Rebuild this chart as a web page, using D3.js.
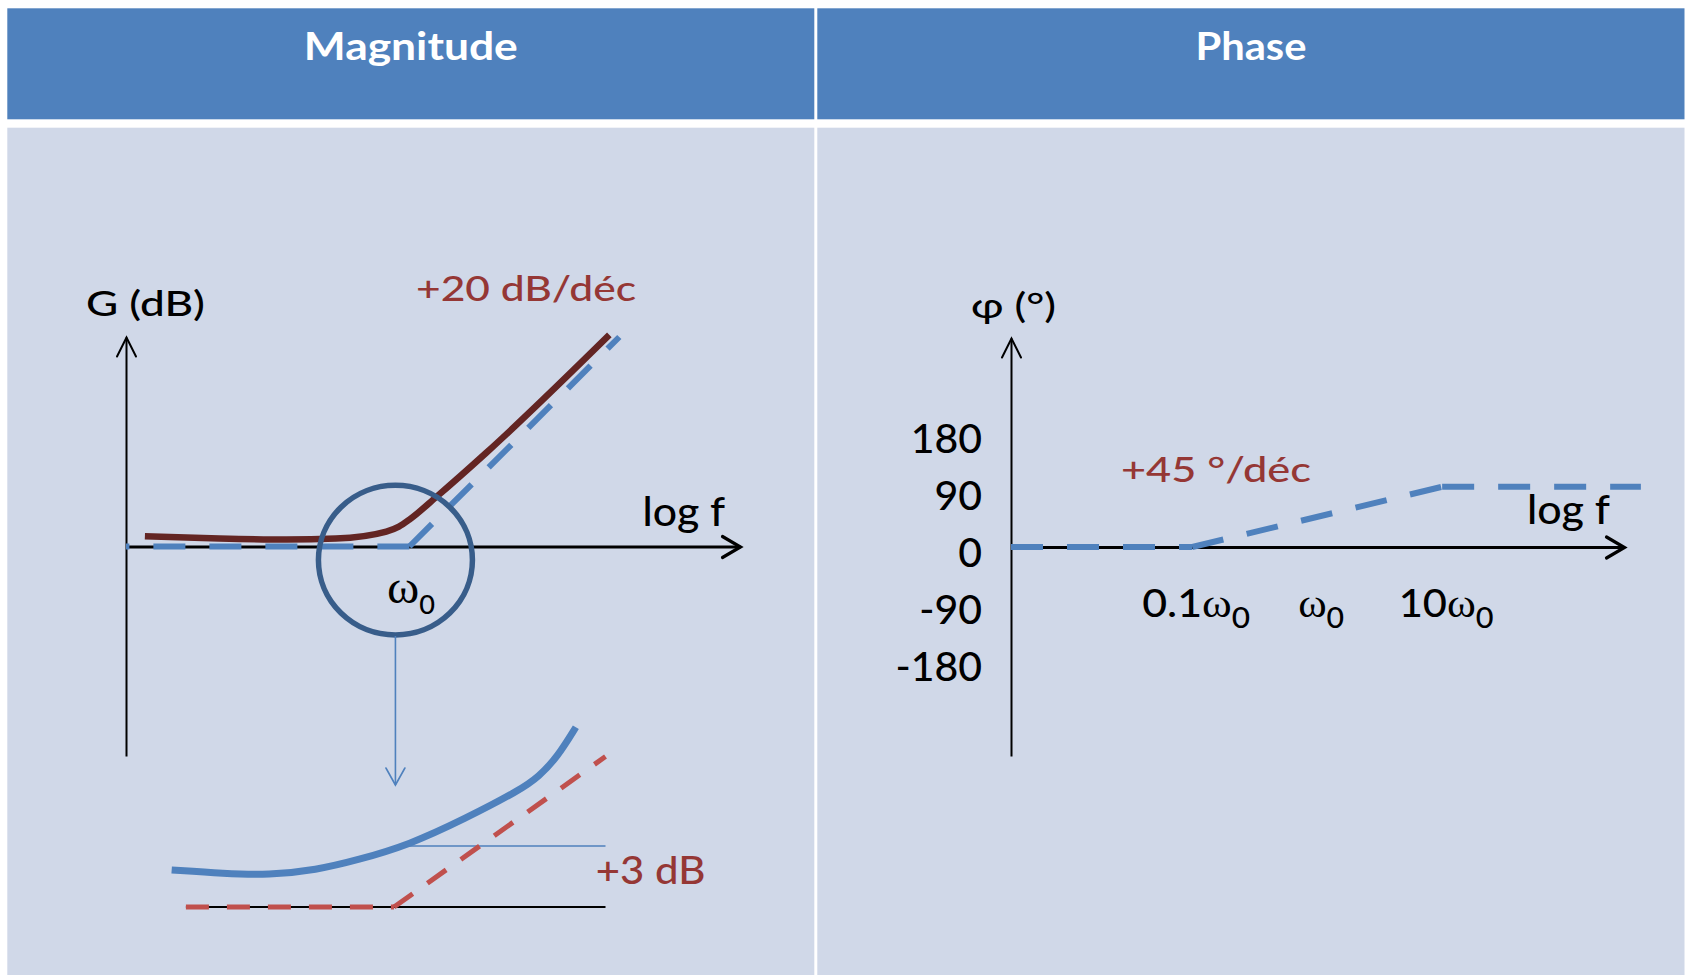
<!DOCTYPE html>
<html><head><meta charset="utf-8">
<script src="https://cdn.jsdelivr.net/npm/d3@7"></script>
<style>html,body{margin:0;padding:0;background:#fff;overflow:hidden}</style>
</head><body><svg id="chart" width="1686" height="975"></svg>
<script>
// ---------- DATA ----------
const panelTitles = ["Magnitude", "Phase"];
// Magnitude panel: x = log10(f/ω0) in decades, y = gain in dB
const magAsymptoteFlat = [[0, 0], [-2.7, 0]];
const magAsymptoteSlope = [[0, 0], [2, 40]];
const magCurve = [[-2.52, 1.96], [-1.81, 1.52], [-1.17, 1.33], [-0.70, 1.52], [-0.22, 2.86], [-0.10, 3.81], [0, 5.14], [0.26, 9.52], [0.73, 17.85], [1.905, 40.4]];
const magZoomCircle = { center: [-0.133, -2.6], rx: 0.7336, ry: 14.3 };
// Zoomed inset (around ω0): x = decades, y = dB
const insetFlat = [[-0.365, 0], [0, 0]];
const insetSlope = [[0, 0], [0.371, 7.4]];
const insetBaseline = [[-0.365, 0], [0.371, 0]];
const insetRef3dB = [[0, 3], [0.371, 3]];
const insetCurve = [[-0.390, 1.82], [-0.298, 1.64], [-0.220, 1.57], [-0.136, 1.82], [-0.064, 2.31], [0.026, 3.05], [0.124, 4.33], [0.221, 5.75], [0.254, 6.41], [0.287, 7.39], [0.319, 8.84]];
const insetArrowEnd = 6.0;
// Phase panel: x = decades, y = degrees
const phaseTickValues = [180, 90, 0, -90, -180];
const phaseFreqTicks = [-1, 0, 1];
const phaseFreqPrefix = ["0.1", "", "10"];
const phaseFreqWidths = [108, 46, 95];
const phaseFlat = [[-2.45, 0], [-1, 0]];
const phaseSlope = [[-1, 0], [1, 95]];
const phasePlateau = [[1, 95], [2.59, 95]];

// ---------- STYLE ----------
const C = {
  header: "#4f81bd", body: "#d0d8e8", dash: "#4f81bd", maroon: "#632523",
  circle: "#385d8a", note: "#953735", red: "#c0504d", ink: "#000"
};
const SANS = "Lato, 'Open Sans', sans-serif";
const SERIF = "'Liberation Serif', 'DejaVu Serif', serif";
const W = 500;

const svg = d3.select("#chart");

// ---------- PANELS ----------
const panels = [
  { x0: 7.3, x1: 814.3 },
  { x0: 817.3, x1: 1684.5 }
];
const titleWidths = [214, 111];
panels.forEach((p, i) => {
  svg.append("rect").attr("x", p.x0).attr("y", 8.3).attr("width", p.x1 - p.x0).attr("height", 111).attr("fill", C.header);
  svg.append("rect").attr("x", p.x0).attr("y", 127.7).attr("width", p.x1 - p.x0).attr("height", 975 - 127.7).attr("fill", C.body);
  svg.append("text").attr("x", (p.x0 + p.x1) / 2).attr("y", 59.5)
    .attr("text-anchor", "middle").attr("font-family", SANS).attr("font-weight", 700)
    .attr("font-size", 37.5).attr("fill", "#fff")
    .attr("textLength", titleWidths[i]).attr("lengthAdjust", "spacingAndGlyphs")
    .text(panelTitles[i]);
});

// ---------- MARKERS ----------
const defs = svg.append("defs");
function chevron(id, color, sw, back, half) {
  const m = defs.append("marker").attr("id", id)
    .attr("markerUnits", "userSpaceOnUse").attr("orient", "auto")
    .attr("viewBox", `${-back - 4} ${-half - 4} ${back + 8} ${2 * half + 8}`)
    .attr("markerWidth", back + 8).attr("markerHeight", 2 * half + 8)
    .attr("refX", 0).attr("refY", 0).style("overflow", "visible");
  m.append("path").attr("d", `M${-back},${-half}L0,0L${-back},${half}`)
    .attr("fill", "none").attr("stroke", color).attr("stroke-width", sw)
    .attr("stroke-linejoin", "miter").attr("stroke-linecap", "round");
}
chevron("arrX", C.ink, 3.2, 18, 10.5);
chevron("arrY", C.ink, 2, 19, 9.5);
chevron("arrB", C.dash, 1.6, 17, 9.5);

// ---------- SCALES ----------
const magX = d3.scaleLinear().domain([-2.7, 3.15]).range([126, 740]);
const magY = d3.scaleLinear().domain([-40, 40]).range([756, 337]);
const insetX = d3.scaleLinear().domain([0, 0.371]).range([394, 605.5]);
const insetY = d3.scaleLinear().domain([0, 3]).range([907, 846]);
const phX = d3.scaleLinear().domain([-2.45, 2.455]).range([1011, 1624]);
const phY = d3.scaleLinear().domain([-329.5, 329.5]).range([756, 338]);

function styleAxis(g, sw, marker) {
  g.select(".domain").attr("stroke", C.ink).attr("stroke-width", sw).attr("marker-end", `url(#${marker})`);
}

// ---------- MAGNITUDE ----------
const mag = svg.append("g");
mag.append("g").attr("transform", `translate(0,${magY(0)})`)
  .call(d3.axisBottom(magX).tickValues([]).tickSizeOuter(0))
  .call(g => styleAxis(g, 3.2, "arrX"));
mag.append("g").attr("transform", `translate(${magX(-2.7)},0)`)
  .call(d3.axisLeft(magY).tickValues([]).tickSizeOuter(0))
  .call(g => styleAxis(g, 2, "arrY"));

const magLine = d3.line().x(d => magX(d[0])).y(d => magY(d[1]));
[magAsymptoteFlat, magAsymptoteSlope].forEach(seg => {
  mag.append("path").attr("d", magLine(seg)).attr("fill", "none")
    .attr("stroke", C.dash).attr("stroke-width", 6).attr("stroke-dasharray", "32,24");
});
mag.append("path").attr("d", magLine.curve(d3.curveMonotoneX)(magCurve))
  .attr("fill", "none").attr("stroke", C.maroon).attr("stroke-width", 6.5);

// zoom circle
const cx = magX(magZoomCircle.center[0]), cy = magY(magZoomCircle.center[1]);
const rx = magX(magZoomCircle.center[0] + magZoomCircle.rx) - cx;
const ry = magY(magZoomCircle.center[1] - magZoomCircle.ry) - cy;
mag.append("ellipse").attr("cx", cx).attr("cy", cy).attr("rx", rx).attr("ry", ry)
  .attr("fill", "none").attr("stroke", C.circle).attr("stroke-width", 5.5);
// arrow to inset
mag.append("line").attr("x1", cx).attr("y1", cy + ry + 1).attr("x2", cx).attr("y2", insetY(insetArrowEnd))
  .attr("stroke", C.dash).attr("stroke-width", 1.6).attr("marker-end", "url(#arrB)");

// labels
function label(g, x, y, txt, size, color, width) {
  const t = g.append("text").attr("x", x).attr("y", y).attr("font-family", SANS).attr("font-weight", W)
    .attr("font-size", size).attr("fill", color).text(txt);
  if (width) t.attr("textLength", width).attr("lengthAdjust", "spacingAndGlyphs");
  return t;
}
label(mag, magX(-3.081), magY(44.1), "G (dB)", 35, C.ink, 119);
label(mag, magX(0.063), magY(46.93), "+20 dB/déc", 34, C.note, 220);
label(mag, magX(2.222), magY(3.91), "log f", 40, C.ink, 82.6);

function omegaLabel(g, x, y, prefix, mainSize, omegaSize, subSize, subDy, width, anchor) {
  const t = g.append("text").attr("x", x).attr("y", y).attr("fill", C.ink)
    .attr("text-anchor", anchor || "start");
  if (prefix) t.append("tspan").attr("font-family", SANS).attr("font-weight", W).attr("font-size", mainSize).text(prefix);
  t.append("tspan").attr("font-family", SERIF).attr("font-size", omegaSize).text("ω");
  t.append("tspan").attr("font-family", SANS).attr("font-weight", W).attr("font-size", subSize).attr("dy", subDy).text("0");
  if (width) t.attr("textLength", width).attr("lengthAdjust", "spacingAndGlyphs");
  return t;
}
omegaLabel(mag, magX(-0.213), magY(-10.79), "", 38, 47, 26, 11, 48);

// ---------- INSET ----------
const ins = svg.append("g");
const insLine = d3.line().x(d => insetX(d[0])).y(d => insetY(d[1]));
ins.append("path").attr("d", insLine(insetBaseline)).attr("stroke", C.ink).attr("stroke-width", 1.8).attr("fill", "none");
ins.append("path").attr("d", insLine(insetRef3dB)).attr("stroke", C.dash).attr("stroke-width", 1.6).attr("fill", "none");
[insetFlat, insetSlope].forEach(seg => {
  ins.append("path").attr("d", insLine(seg)).attr("fill", "none")
    .attr("stroke", C.red).attr("stroke-width", 5).attr("stroke-dasharray", "23,18");
});
ins.append("path").attr("d", insLine.curve(d3.curveBasis)(insetCurve))
  .attr("fill", "none").attr("stroke", C.dash).attr("stroke-width", 7);
label(ins, insetX(0.354), insetY(1.13), "+3 dB", 38, C.note, 109.6);

// ---------- PHASE ----------
const ph = svg.append("g");
ph.append("g").attr("transform", `translate(0,${phY(0)})`)
  .call(d3.axisBottom(phX).tickValues([]).tickSizeOuter(0))
  .call(g => styleAxis(g, 3.2, "arrX"));
ph.append("g").attr("transform", `translate(${phX(-2.45)},0)`)
  .call(d3.axisLeft(phY).tickValues([]).tickSizeOuter(0))
  .call(g => styleAxis(g, 2, "arrY"));
// y tick labels
ph.append("g").attr("transform", `translate(${phX(-2.45)},0)`)
  .call(d3.axisLeft(phY).tickValues(phaseTickValues).tickSize(0).tickPadding(29).tickFormat(d => String(d)))
  .call(g => g.select(".domain").remove())
  .call(g => g.selectAll("text").attr("font-family", SANS).attr("font-weight", W).attr("font-size", 41).attr("fill", C.ink).attr("dy", "0.48em"));
// x tick labels
const phXAxis = ph.append("g").attr("transform", `translate(0,${phY(0)})`)
  .call(d3.axisBottom(phX).tickValues(phaseFreqTicks).tickSize(0))
  .call(g => g.select(".domain").remove());
phXAxis.selectAll(".tick text").remove();
phXAxis.selectAll(".tick").each(function (d, i) {
  omegaLabel(d3.select(this), 3.5, 70, phaseFreqPrefix[i], 38, 40, 28, 11, phaseFreqWidths[i], "middle");
});

const phLine = d3.line().x(d => phX(d[0])).y(d => phY(d[1]));
[phaseFlat, phaseSlope, phasePlateau].forEach(seg => {
  ph.append("path").attr("d", phLine(seg)).attr("fill", "none")
    .attr("stroke", C.dash).attr("stroke-width", 6).attr("stroke-dasharray", "32,24");
});
label(ph, phX(-2.77), phY(361), "φ (°)", 35, C.ink, 85);
label(ph, phX(-1.57), phY(102.9), "+45 °/déc", 34, C.note, 190);
label(ph, phX(1.679), phY(36.3), "log f", 40, C.ink, 83);
</script>
</body></html>
